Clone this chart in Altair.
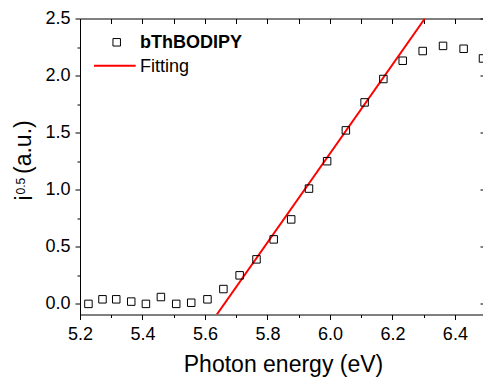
import altair as alt
import pandas as pd

# Data
energy = [5.227, 5.272, 5.316, 5.364, 5.411, 5.459, 5.508, 5.556, 5.608, 5.659,
          5.711, 5.765, 5.820, 5.876, 5.933, 5.991, 6.051, 6.111, 6.171, 6.233,
          6.297, 6.362, 6.428, 6.490]
intensity = [0.00, 0.04, 0.04, 0.02, 0.00, 0.06, 0.00, 0.01, 0.04, 0.13,
             0.25, 0.39, 0.565, 0.74, 1.01, 1.25, 1.52, 1.765, 1.97, 2.13,
             2.215, 2.26, 2.235, 2.15]
fit_x = [5.638, 6.304]
fit_y = [-0.093, 2.5]

x_major = [5.2, 5.4, 5.6, 5.8, 6.0, 6.2, 6.4]
x_minor = [5.3, 5.5, 5.7, 5.9, 6.1, 6.3]
x_top = [5.2, 5.3, 5.4, 5.5, 5.6, 5.7, 5.8, 5.9, 6.0, 6.1, 6.2, 6.3, 6.4]
y_major = [0.0, 0.5, 1.0, 1.5, 2.0, 2.5]
y_minor = [0.25, 0.75, 1.25, 1.75, 2.25]

W, H = 403, 296
FONT = "Liberation Sans"

pts = pd.DataFrame({"e": energy, "i": intensity})
fit = pd.DataFrame({"e": fit_x, "i": fit_y})

xs = alt.Scale(domain=[5.2, 6.49], nice=False, zero=False)
ys = alt.Scale(domain=[-0.093, 2.5], nice=False, zero=False)

common_axis = dict(domainColor="black", tickColor="black", labelColor="black",
                   labelFont=FONT, titleFont=FONT, grid=False)

# Major axes + data points
points = alt.Chart(pts).mark_point(shape="square", filled=False, color="black",
                                   strokeWidth=1, size=56, opacity=1).encode(
    x=alt.X("e:Q", scale=xs, axis=alt.Axis(
        orient="bottom", values=x_major, format=".1f", tickSize=5, labelPadding=6,
        labelFontSize=18, title="Photon energy (eV)", titleFontSize=23,
        titleFontWeight="normal", titleColor="black", titleX=203, titleY=57,
        titleBaseline="alphabetic", titleAlign="center", labelFlush=False,
        **common_axis)),
    y=alt.Y("i:Q", scale=ys, axis=alt.Axis(
        orient="left", values=y_major, format=".1f", tickSize=5, labelPadding=5,
        labelFontSize=18, title=None, labelFlush=False, **common_axis)),
)

# Fit line + minor ticks
line = alt.Chart(fit).mark_line(color="#ff0000", strokeWidth=2, clip=True).encode(
    x=alt.X("e:Q", scale=xs, axis=alt.Axis(
        orient="bottom", values=x_minor, tickSize=3, labels=False, domain=False,
        title=None, **common_axis)),
    y=alt.Y("i:Q", scale=ys, axis=alt.Axis(
        orient="left", values=y_minor, tickSize=3, labels=False, domain=False,
        title=None, **common_axis)),
)

# Top (inward ticks) and right (inward ticks) frame axes
frame = alt.Chart(pts).mark_point(opacity=0).encode(
    x=alt.X("e:Q", scale=xs, axis=alt.Axis(
        orient="bottom", offset=-H, values=x_top, tickSize=5, labels=False,
        domain=True, title=None, **common_axis)),
    y=alt.Y("i:Q", scale=ys, axis=alt.Axis(
        orient="left", offset=-W, values=y_major, tickSize=3, labels=False,
        domain=False, title=None, **common_axis)),
)

one = alt.Data(values=[{}])

# Y-axis title with superscript
yt_i = alt.Chart(one).mark_text(text="i", font=FONT, fontSize=23, angle=270,
                                align="left", baseline="alphabetic", color="black").encode(
    x=alt.value(31.5 - 80), y=alt.value(200.5 - 18.5))
yt_sup = alt.Chart(one).mark_text(text="0.5", font=FONT, fontSize=12, angle=270,
                                  align="left", baseline="alphabetic", color="black").encode(
    x=alt.value(25 - 80), y=alt.value(194.5 - 18.5))
yt_rest = alt.Chart(one).mark_text(text="(a.u.)", font=FONT, fontSize=23, angle=270,
                                   align="left", baseline="alphabetic", color="black").encode(
    x=alt.value(31 - 80), y=alt.value(174 - 18.5))

# Legend
leg_sym = alt.Chart(one).mark_point(shape="square", filled=False, color="black",
                                    strokeWidth=1, size=56, opacity=1).encode(
    x=alt.value(116.7 - 80), y=alt.value(42.3 - 18.5))
leg_t1 = alt.Chart(one).mark_text(text="bThBODIPY", font=FONT, fontSize=18,
                                  fontWeight="bold", align="left", baseline="middle",
                                  color="black").encode(
    x=alt.value(140 - 80), y=alt.value(43 - 18.5))
leg_line = alt.Chart(one).mark_rule(color="#ff0000", strokeWidth=2).encode(
    x=alt.value(94 - 80), x2=alt.value(135.7 - 80), y=alt.value(65.7 - 18.5))
leg_t2 = alt.Chart(one).mark_text(text="Fitting", font=FONT, fontSize=18,
                                  align="left", baseline="middle", color="black").encode(
    x=alt.value(140 - 80), y=alt.value(66.5 - 18.5))

chart = alt.layer(
    frame, line, points, yt_i, yt_sup, yt_rest, leg_sym, leg_t1, leg_line, leg_t2
).resolve_axis(x="independent", y="independent").properties(
    width=W, height=H,
    autosize=alt.AutoSizeParams(type="none"),
    padding={"left": 80, "top": 18.5, "right": 0, "bottom": 62.5},
    background="white",
).configure_view(stroke=None)

chart.save("out.html", embed_options={"renderer": "svg", "actions": False})
